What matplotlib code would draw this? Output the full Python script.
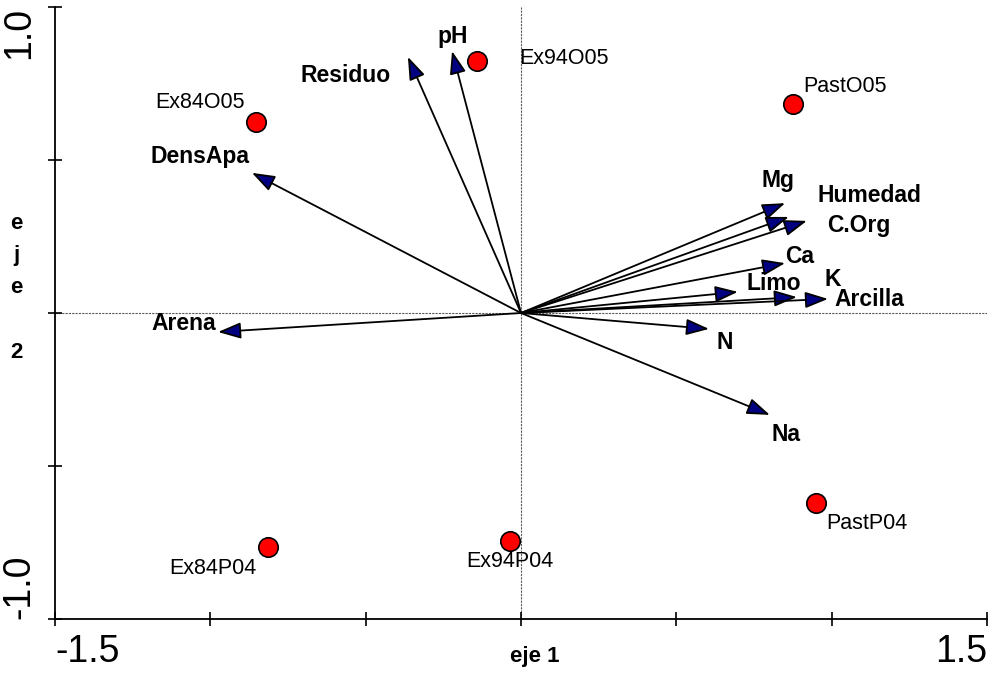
import matplotlib
matplotlib.use("Agg")
import matplotlib.pyplot as plt

plt.rcParams['font.family'] = ['Liberation Sans', 'DejaVu Sans']

# soil variables (biplot vectors)
var_names = ["pH", "Residuo", "DensApa", "Arena", "Mg", "Humedad", "C.Org",
             "Ca", "Limo", "K", "Arcilla", "N", "Na"]
var_x = [-0.222, -0.364, -0.866, -0.975, 0.850, 0.862, 0.920,
         0.850, 0.698, 0.888, 0.988, 0.605, 0.801]
var_y = [0.856, 0.837, 0.458, -0.062, 0.359, 0.314, 0.301,
         0.163, 0.069, 0.052, 0.046, -0.052, -0.333]

# sites (scores)
site_names = ["Ex84O05", "Ex94O05", "PastO05", "Ex84P04", "Ex94P04", "PastP04"]
site_x = [-0.853, -0.142, 0.875, -0.814, -0.035, 0.949]
site_y = [0.624, 0.824, 0.683, -0.765, -0.745, -0.621]

# label offsets in pixels from the arrow tip / point
var_off = {"pH": (1, 15), "Residuo": (-62, -19), "DensApa": (-52, 16),
           "Arena": (-34, 8), "Mg": (-7, 23), "Humedad": (81, 21),
           "C.Org": (52, -5), "Ca": (15, 7), "Limo": (36, 8), "K": (36, 18),
           "Arcilla": (41, -1), "N": (16, -14), "Na": (16, -20)}
site_off = {"Ex84O05": (-56, 20), "Ex94O05": (87, 2), "PastO05": (52, 18),
            "Ex84P04": (-55, -21), "Ex94P04": (0, -21), "PastP04": (51, -20)}

fig = plt.figure(figsize=(9.89, 6.74), dpi=100)
ax = fig.add_axes([0.0556, 0.0816, 0.9424, 0.908])
ax.set_xlim(-1.5, 1.5)
ax.set_ylim(-1.0, 1.0)

for s in ['top', 'right']:
    ax.spines[s].set_visible(False)
for s in ['left', 'bottom']:
    ax.spines[s].set_linewidth(1.3)

ax.axhline(0, color='0.35', lw=0.8, ls=(0, (2, 1)), zorder=1)
ax.axvline(0, color='0.35', lw=0.8, ls=(0, (2, 1)), zorder=1)

for name, x, y in zip(var_names, var_x, var_y):
    ax.annotate('', xy=(x, y), xytext=(0, 0),
                arrowprops=dict(arrowstyle='-|>,head_length=0.7,head_width=0.25',
                                fc='#000080', ec='black', lw=1.3,
                                shrinkA=0, shrinkB=0, mutation_scale=20),
                zorder=3)
    ax.annotate(name, xy=(x, y), xytext=var_off[name], textcoords='offset pixels',
                ha='center', va='center', fontsize=16.5, fontweight='bold', zorder=4)

ax.plot(site_x, site_y, 'o', ms=14, mfc='red', mec='black', mew=1.2,
        ls='none', zorder=5)
for name, x, y in zip(site_names, site_x, site_y):
    ax.annotate(name, xy=(x, y), xytext=site_off[name], textcoords='offset pixels',
                ha='center', va='center', fontsize=15.5)

ax.set_xticks([-1.5, -1.0, -0.5, 0, 0.5, 1.0, 1.5])
ax.set_xticklabels(['-1.5', '', '', '', '', '', '1.5'], fontsize=27)
ax.set_yticks([-1.0, -0.5, 0, 0.5, 1.0])
ax.set_yticklabels(['-1.0', '', '', '', '1.0'], fontsize=27, rotation=90)
ax.tick_params(direction='inout', length=10, width=1.2)
ax.tick_params(axis='x', pad=6)
ax.tick_params(axis='y', pad=8)

xt = ax.get_xticklabels()
xt[0].set_ha('left')
xt[-1].set_ha('right')
yt = ax.get_yticklabels()
yt[0].set_va('bottom')
yt[-1].set_va('top')

ax.set_xlabel('eje 1', fontsize=16, fontweight='bold')
ax.xaxis.set_label_coords(0.515, -0.062)
ax.xaxis.label.set_va('center')
ax.set_ylabel('e\nj\ne\n\n2', fontsize=16, fontweight='bold', rotation=0,
              linespacing=1.7)
ax.yaxis.set_label_coords(-0.041, 0.541)
ax.yaxis.label.set_va('center')
ax.yaxis.label.set_ha('center')

fig.savefig('out.png', dpi=100)
